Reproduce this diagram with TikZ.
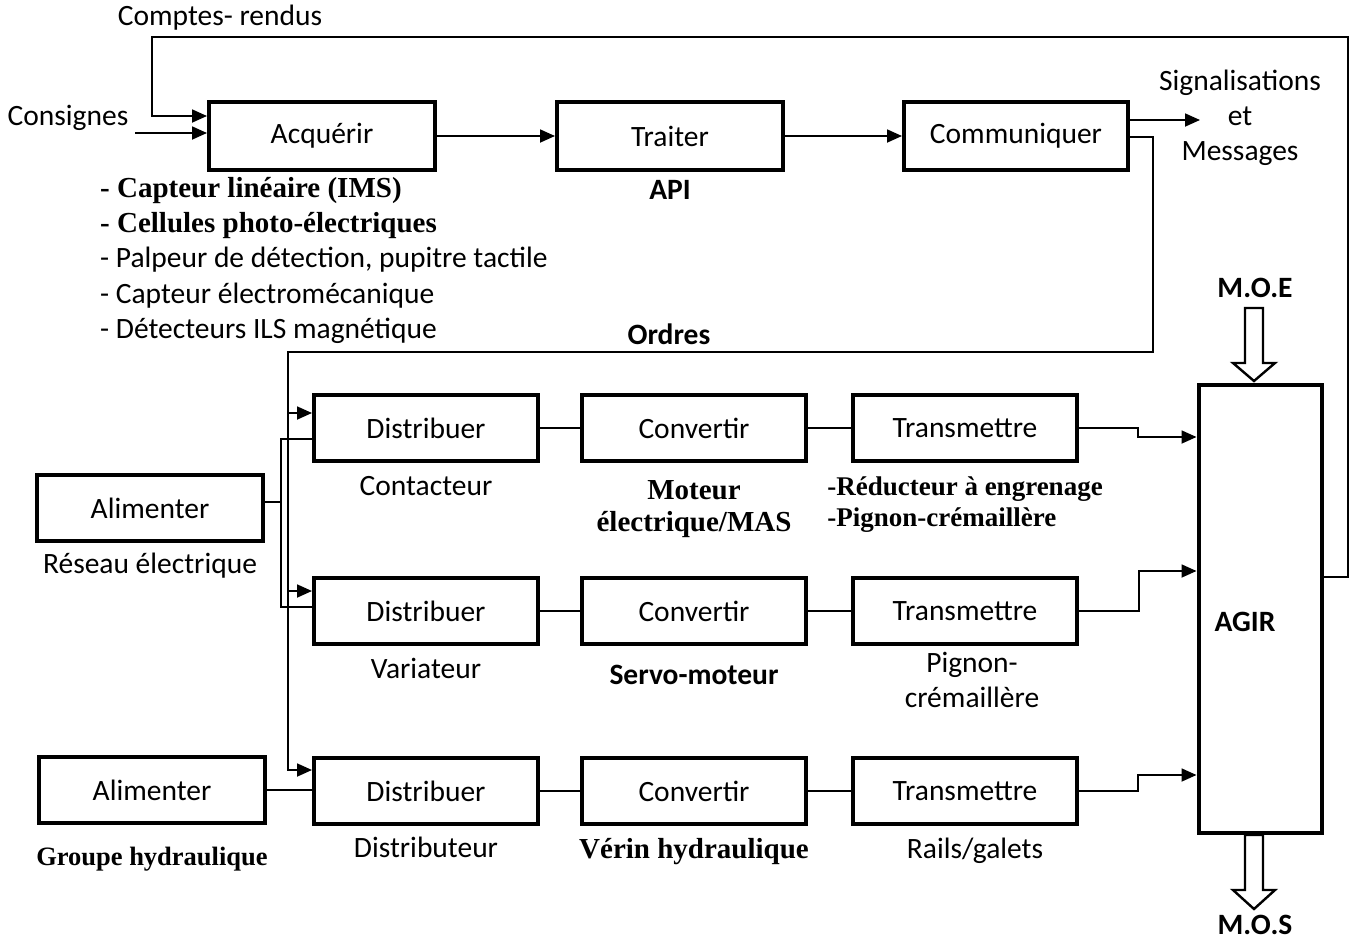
\documentclass[tikz,border=0pt]{standalone}
\usepackage{fontspec}
\setmainfont{Carlito}
\newfontfamily\srfont{Liberation Serif}
\usepackage{tikz}
\usetikzlibrary{arrows.meta,positioning,calc}
\tikzset{
  % Function block (thick frame)
  blk/.style={rectangle,draw=black,line width=4pt,
    minimum width=224pt,minimum height=66pt,inner sep=0pt,
    font=\fontsize{29.5}{35}\selectfont},
  % Plain label
  lbl/.style={inner sep=0pt,align=center,font=\fontsize{29.5}{35}\selectfont},
  % Bold label
  lblb/.style={inner sep=0pt,align=center,font=\fontsize{29.5}{35}\selectfont\bfseries},
  % Serif bold label
  slbl/.style={inner sep=0pt,align=center,font=\fontsize{29}{32}\selectfont\srfont\bfseries},
  % Connectors
  wire/.style={line width=1.8pt},
  arr/.style={wire,-{Triangle[length=15pt,width=13pt]}},
  % Hollow flow arrow
  hollow/.style={draw,line width=2.4pt,fill=white,line join=miter},
}
\begin{document}
\begin{tikzpicture}[x=1pt,y=-1pt]
  \useasboundingbox (0,0) rectangle (1352,940);

  % Information chain
  \node[blk,minimum width=226pt,minimum height=68pt] (acq) at (322,136) {Acquérir};
  \node[blk,minimum width=226pt,minimum height=68pt,right=118pt of acq] (trt) {Traiter};
  \node[blk,minimum width=224pt,minimum height=68pt,right=117pt of trt] (com) {Communiquer};

  % Energy chain
  \node[blk] (dis1) at (426,428) {Distribuer};
  \node[blk,right=40pt of dis1] (cnv1) {Convertir};
  \node[blk,right=43pt of cnv1] (trm1) {Transmettre};
  \node[blk] (dis2) at (426,611) {Distribuer};
  \node[blk,right=40pt of dis2] (cnv2) {Convertir};
  \node[blk,right=43pt of cnv2] (trm2) {Transmettre};
  \node[blk] (dis3) at (426,791) {Distribuer};
  \node[blk,right=40pt of dis3] (cnv3) {Convertir};
  \node[blk,right=43pt of cnv3] (trm3) {Transmettre};
  \node[blk,minimum width=226pt] (alim1) at (150,508) {Alimenter};
  \node[blk,minimum width=226pt] (alim2) at (152,790) {Alimenter};
  \node[blk,minimum width=123pt,minimum height=448pt] (agir) at (1260,609) {};
  \node[lblb] (agirtxt) at (1245,622) {AGIR};

  % Labels
  \node[lbl] (cr) at (220,18) {Comptes- rendus};
  \node[lbl] (cons) at (68,118) {Consignes};
  \node[lbl] (sig) at (1240,118) {Signalisations\\et\\Messages};
  \node[lblb,below=8pt of trt] (api) {API};
  \node[slbl,anchor=base west] (cap1) at (100,197) {- Capteur linéaire (IMS)};
  \node[slbl,anchor=base west] (cap2) at (100,232) {- Cellules photo-électriques};
  \node[lbl,anchor=base west] (cap3) at (100,267) {- Palpeur de détection, pupitre tactile};
  \node[lbl,anchor=base west] (cap4) at (100,303) {- Capteur électromécanique};
  \node[lbl,anchor=base west] (cap5) at (100,338) {- Détecteurs ILS magnétique};
  \node[lblb] (ord) at (669,334) {Ordres};
  \node[lbl,below=13pt of dis1] (contac) {Contacteur};
  \node[lbl,below=12pt of dis2] (variat) {Variateur};
  \node[lbl,below=11pt of dis3] (distrib) {Distributeur};
  \node[slbl,below=17pt of cnv1] (mas) {Moteur\\électrique/MAS};
  \node[lblb,below=19pt of cnv2] (servo) {Servo-moteur};
  \node[slbl,below=12pt of cnv3] (verin) {Vérin hydraulique};
  \node[slbl,align=left,font=\fontsize{27}{31}\selectfont\srfont\bfseries,
    below=14pt of trm1] (reduc) {-Réducteur à engrenage\\-Pignon-crémaillère};
  \node[lbl,below=6pt of trm2,xshift=7pt] (pignon) {Pignon-\\crémaillère};
  \node[lbl,below=12pt of trm3,xshift=10pt] (rails) {Rails/galets};
  \node[lbl,below=10pt of alim1] (reseau) {Réseau électrique};
  \node[slbl,font=\fontsize{26.5}{31}\selectfont\srfont\bfseries,
    below=22pt of alim2] (groupe) {Groupe hydraulique};
  \node[lblb] (moe) at (1255,288) {M.O.E};
  \node[lblb] (mos) at (1255,925) {M.O.S};

  % Information flow
  \coordinate (consIn) at (135,133);
  \coordinate (crR) at (1348,37);
  \coordinate (crL) at (152,37);
  \coordinate (sigTip) at (1200,120);
  \draw[arr] (consIn) -- (consIn -| acq.west);
  \draw[arr] ($(agir.east)+(0,-32)$) -| (crR) -- (crL) |- ($(acq.west)+(0,-20)$);
  \draw[arr] (acq) -- (trt);
  \draw[arr] (trt) -- (com);
  \draw[arr] ($(com.east)+(0,-16)$) -- (sigTip);

  % Orders
  \coordinate (ordR) at (1153,352);
  \coordinate (ordL) at (288,352);
  \coordinate (in1) at ($(dis1.west)+(0,-15)$);
  \coordinate (in2) at ($(dis2.west)+(0,-20)$);
  \coordinate (in3) at ($(dis3.west)+(0,-21)$);
  \draw[arr] ($(com.east)+(0,1)$) -| (ordR) -- (ordL) |- (in3);
  \draw[arr] (ordL |- in1) -- (in1);
  \draw[arr] (ordL |- in2) -- (in2);

  % Power
  \coordinate (pw) at ($(alim1.east)+(16,-6)$);
  \draw[wire] ($(alim1.east)+(0,-6)$) -- (pw) |- ($(dis1.west)+(0,11)$);
  \draw[wire] (pw) |- ($(dis2.west)+(0,-4)$);
  \draw[wire] (alim2.east) -- (alim2.east -| dis3.west);

  % Chains
  \foreach \r in {1,2,3}{
    \draw[wire] (dis\r.east) -- (cnv\r.west);
    \draw[wire] (cnv\r.east) -- (trm\r.west);
  }
  \draw[arr] (trm1.east) -- ++(59,0) |- ($(agir.west)+(0,-172)$);
  \draw[arr] (trm2.east) -- ++(60,0) |- ($(agir.west)+(0,-38)$);
  \draw[arr] (trm3.east) -- ++(59,0) |- ($(agir.west)+(0,166)$);

  % M.O.E / M.O.S
  \coordinate (moeTip) at (1254,381);
  \coordinate (mosTip) at (1254,909);
  \draw[hollow] (moeTip) -- ++(-21,-18) -- ++(12,0) -- ++(0,-55) -- ++(18,0)
    -- ++(0,55) -- ++(12,0) -- cycle;
  \draw[hollow] (mosTip) -- ++(-21,-19) -- ++(12,0) -- ++(0,-55) -- ++(18,0)
    -- ++(0,55) -- ++(12,0) -- cycle;
\end{tikzpicture}
\end{document}
